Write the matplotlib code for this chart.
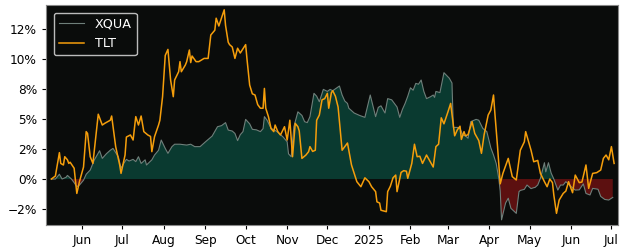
import matplotlib
matplotlib.use("Agg")
import matplotlib.pyplot as plt
import matplotlib.dates as mdates
from matplotlib.ticker import FuncFormatter, MultipleLocator
import numpy as np
import pandas as pd

tlt_dates = [
    "2024-05-09", "2024-05-12", "2024-05-15", "2024-05-16", "2024-05-18", "2024-05-19", "2024-05-21",
    "2024-05-22", "2024-05-23", "2024-05-26", "2024-05-28", "2024-05-30", "2024-06-02", "2024-06-04",
    "2024-06-05", "2024-06-07", "2024-06-09", "2024-06-13", "2024-06-16", "2024-06-18", "2024-06-22",
    "2024-06-23", "2024-06-26", "2024-06-29", "2024-06-30", "2024-07-03", "2024-07-04", "2024-07-07",
    "2024-07-09", "2024-07-11", "2024-07-13", "2024-07-15", "2024-07-17", "2024-07-20", "2024-07-22",
    "2024-07-23", "2024-07-25", "2024-07-28", "2024-07-29", "2024-07-31", "2024-08-02", "2024-08-04",
    "2024-08-06", "2024-08-08", "2024-08-09", "2024-08-12", "2024-08-13", "2024-08-14", "2024-08-17",
    "2024-08-18", "2024-08-20", "2024-08-21", "2024-08-22", "2024-08-25", "2024-08-27", "2024-08-31",
    "2024-09-03", "2024-09-05", "2024-09-08", "2024-09-09", "2024-09-11", "2024-09-15", "2024-09-16",
    "2024-09-18", "2024-09-19", "2024-09-21", "2024-09-23", "2024-09-25", "2024-09-27", "2024-10-01",
    "2024-10-02", "2024-10-04", "2024-10-06", "2024-10-08", "2024-10-10", "2024-10-12", "2024-10-14",
    "2024-10-15", "2024-10-16", "2024-10-18", "2024-10-20", "2024-10-22", "2024-10-23", "2024-10-25",
    "2024-10-27", "2024-10-30", "2024-11-01", "2024-11-03", "2024-11-05", "2024-11-07", "2024-11-09",
    "2024-11-10", "2024-11-12", "2024-11-15", "2024-11-17", "2024-11-18", "2024-11-20", "2024-11-22",
    "2024-11-23", "2024-11-25", "2024-11-27", "2024-11-29", "2024-12-01", "2024-12-02", "2024-12-04",
    "2024-12-05", "2024-12-07", "2024-12-09", "2024-12-12", "2024-12-14", "2024-12-16", "2024-12-19",
    "2024-12-21", "2024-12-23", "2024-12-26", "2024-12-29", "2025-01-01", "2025-01-03", "2025-01-06",
    "2025-01-07", "2025-01-09", "2025-01-10", "2025-01-14", "2025-01-15", "2025-01-17", "2025-01-19",
    "2025-01-21", "2025-01-22", "2025-01-25", "2025-01-27", "2025-01-29", "2025-01-30", "2025-02-02",
    "2025-02-04", "2025-02-06", "2025-02-08", "2025-02-10", "2025-02-13", "2025-02-16", "2025-02-18",
    "2025-02-20", "2025-02-22", "2025-02-24", "2025-02-26", "2025-03-01", "2025-03-03", "2025-03-05",
    "2025-03-06", "2025-03-08", "2025-03-10", "2025-03-11", "2025-03-13", "2025-03-14", "2025-03-16",
    "2025-03-19", "2025-03-21", "2025-03-24", "2025-03-26", "2025-03-28", "2025-03-31", "2025-04-02",
    "2025-04-04", "2025-04-05", "2025-04-07", "2025-04-09", "2025-04-11", "2025-04-15", "2025-04-18",
    "2025-04-21", "2025-04-24", "2025-04-27", "2025-04-28", "2025-05-02", "2025-05-04", "2025-05-07",
    "2025-05-09", "2025-05-12", "2025-05-14", "2025-05-16", "2025-05-18", "2025-05-19", "2025-05-21",
    "2025-05-23", "2025-05-26", "2025-05-28", "2025-05-30", "2025-06-02", "2025-06-04", "2025-06-07",
    "2025-06-09", "2025-06-12", "2025-06-14", "2025-06-17", "2025-06-20", "2025-06-23", "2025-06-25",
    "2025-06-27", "2025-06-29", "2025-07-01", "2025-07-03",
]
tlt_values = [
    0.0, 0.25, 2.2, 1.3, 1.17, 1.86, 1.6,
    1.3, 1.4, 0.9, -1.2, -0.2, 1.0, 3.95,
    3.8, 1.86, 1.3, 5.4, 4.5, 4.65, 4.9,
    5.25, 2.7, 1.17, 0.47, 2.0, 3.5, 3.67,
    3.25, 5.2, 4.5, 5.25, 3.95, 3.67, 3.55,
    2.28, 3.53, 4.5, 4.9, 6.86, 10.3, 10.8,
    8.25, 6.86, 8.25, 8.94, 9.78, 8.94, 9.5,
    9.78, 10.75, 9.7, 10.25, 9.78, 9.78, 10.05,
    10.05, 12.0, 12.4, 13.4, 12.75, 14.1, 12.8,
    11.4, 11.2, 11.0, 10.05, 10.9, 10.5, 11.2,
    10.0, 7.83, 7.1, 7.0, 6.2, 5.9, 5.9,
    7.55, 5.9, 5.2, 4.2, 3.95, 4.5, 3.95,
    3.67, 4.36, 3.25, 4.9, 1.86, 4.64, 4.36,
    4.0, 1.72, 2.0, 2.28, 2.7, 2.3, 2.4,
    4.9, 5.33, 6.6, 6.7, 7.14, 5.9, 7.2,
    7.36, 6.9, 6.0, 2.4, 2.7, 3.0, 1.17,
    0.47, -0.22, -0.64, 0.1, -0.22, -0.64, -1.05,
    -1.9, -2.0, -2.6, -2.72, -1.05, -0.6, 0.1,
    0.33, -1.05, 0.55, 0.7, 0.65, 0.06, 1.3,
    2.9, 1.86, 1.9, 1.3, 2.0, 1.4, 1.0,
    2.7, 2.9, 5.1, 4.6, 5.6, 6.3, 4.45,
    3.6, 4.1, 4.4, 3.3, 3.95, 3.6, 3.7,
    4.78, 3.8, 3.2, 2.14, 3.7, 5.33, 5.75,
    7.0, 5.5, 2.7, -0.4, 0.47, 1.72, 0.2,
    -0.08, 2.4, 3.1, 3.95, 2.4, 1.44, 1.55,
    0.47, -0.22, -0.64, 0.0, -0.3, -1.33, -2.86,
    -1.75, -1.2, -1.0, -0.22, -1.14, 0.33, -0.3,
    -0.25, 1.17, -0.78, 0.47, 0.53, 0.75, 1.72,
    2.0, 1.6, 2.7, 1.3,
]

xqua_dates = [
    "2024-05-09", "2024-05-12", "2024-05-15", "2024-05-17", "2024-05-20", "2024-05-21", "2024-05-24",
    "2024-05-26", "2024-05-28", "2024-05-30", "2024-06-02", "2024-06-04", "2024-06-07", "2024-06-10",
    "2024-06-14", "2024-06-16", "2024-06-19", "2024-06-22", "2024-06-24", "2024-06-26", "2024-06-28",
    "2024-06-30", "2024-07-02", "2024-07-04", "2024-07-06", "2024-07-09", "2024-07-11", "2024-07-13",
    "2024-07-15", "2024-07-18", "2024-07-19", "2024-07-23", "2024-07-25", "2024-07-28", "2024-07-30",
    "2024-08-02", "2024-08-04", "2024-08-07", "2024-08-09", "2024-08-13", "2024-08-18", "2024-08-21",
    "2024-08-24", "2024-08-28", "2024-09-01", "2024-09-06", "2024-09-10", "2024-09-13", "2024-09-16",
    "2024-09-18", "2024-09-21", "2024-09-23", "2024-09-25", "2024-09-27", "2024-09-29", "2024-10-01",
    "2024-10-04", "2024-10-06", "2024-10-09", "2024-10-12", "2024-10-14", "2024-10-15", "2024-10-17",
    "2024-10-20", "2024-10-23", "2024-10-25", "2024-10-29", "2024-11-01", "2024-11-02", "2024-11-04",
    "2024-11-06", "2024-11-09", "2024-11-12", "2024-11-14", "2024-11-16", "2024-11-18", "2024-11-21",
    "2024-11-23", "2024-11-25", "2024-11-28", "2024-12-01", "2024-12-03", "2024-12-05", "2024-12-08",
    "2024-12-10", "2024-12-12", "2024-12-14", "2024-12-16", "2024-12-17", "2024-12-21", "2024-12-25",
    "2024-12-29", "2025-01-02", "2025-01-06", "2025-01-08", "2025-01-10", "2025-01-13", "2025-01-15",
    "2025-01-18", "2025-01-22", "2025-01-24", "2025-01-26", "2025-01-28", "2025-01-30", "2025-02-01",
    "2025-02-03", "2025-02-05", "2025-02-07", "2025-02-09", "2025-02-11", "2025-02-13", "2025-02-16",
    "2025-02-18", "2025-02-19", "2025-02-20", "2025-02-23", "2025-02-26", "2025-03-02", "2025-03-04",
    "2025-03-05", "2025-03-08", "2025-03-10", "2025-03-12", "2025-03-14", "2025-03-16", "2025-03-18",
    "2025-03-22", "2025-03-24", "2025-03-27", "2025-03-30", "2025-04-02", "2025-04-04", "2025-04-06",
    "2025-04-08", "2025-04-09", "2025-04-10", "2025-04-13", "2025-04-15", "2025-04-17", "2025-04-21",
    "2025-04-23", "2025-04-24", "2025-04-27", "2025-04-29", "2025-05-02", "2025-05-04", "2025-05-05",
    "2025-05-07", "2025-05-09", "2025-05-12", "2025-05-13", "2025-05-15", "2025-05-17", "2025-05-19",
    "2025-05-22", "2025-05-24", "2025-05-26", "2025-05-28", "2025-06-01", "2025-06-04", "2025-06-07",
    "2025-06-10", "2025-06-12", "2025-06-15", "2025-06-17", "2025-06-21", "2025-06-23", "2025-06-26",
    "2025-06-29", "2025-07-02",
]
xqua_values = [
    0.0, 0.0, 0.4, 0.0, 0.15, 0.3, 0.0,
    -0.3, -0.64, -0.5, -0.1, 0.4, 0.75, 1.58,
    2.36, 1.72, 2.1, 2.4, 2.55, 2.2, 1.86,
    0.9, 1.3, 1.64, 1.5, 1.64, 1.45, 1.86,
    1.3, 1.6, 1.17, 1.6, 2.0, 2.4, 3.25,
    2.55, 2.14, 2.7, 2.9, 2.9, 2.83, 2.9,
    2.7, 2.7, 3.1, 3.58, 4.36, 4.45, 4.7,
    4.08, 4.0, 3.8, 3.2, 3.7, 3.95, 4.97,
    4.6, 4.14, 4.1, 3.95, 4.2, 5.2, 4.9,
    4.22, 4.05, 3.9, 3.5, 3.1, 2.1, 1.86,
    4.36, 5.6, 5.3, 4.78, 4.7, 5.2, 7.14,
    6.9, 6.44, 7.47, 7.3, 7.47, 7.36, 7.6,
    7.75, 7.0, 6.5, 6.3, 5.9, 5.5, 5.3,
    5.14, 7.0, 5.2, 5.97, 6.1, 5.5, 6.7,
    6.6, 6.0, 5.14, 5.8, 6.3, 6.9, 7.6,
    7.4, 7.97, 7.9, 8.25, 7.3, 6.7, 6.86,
    7.0, 6.8, 7.3, 7.2, 8.86, 8.4, 8.0,
    4.3, 4.3, 4.22, 3.67, 3.6, 3.4, 4.78,
    4.97, 4.9, 4.22, 3.95, 2.6, 2.0, 1.3,
    0.0, -1.0, -3.4, -2.0, -1.6, -2.44, -2.86,
    -1.05, -0.95, -0.86, -0.5, -0.8, -0.72, -0.7,
    -0.5, 0.06, 1.36, 0.6, 1.36, 0.5, 0.0,
    -0.92, -0.5, -0.5, -0.22, -0.64, -0.92, -0.9,
    -0.4, -1.2, -1.33, -0.78, -0.85, -1.45, -1.7,
    -1.75, -1.53,
]

xlim_dates = ["2024-05-05", "2025-07-06"]
y_limits = [-3.83, 14.5]

tlt_x = pd.to_datetime(tlt_dates)
xq_x = pd.to_datetime(xqua_dates)
xq_y = np.array(xqua_values)

fig = plt.figure(figsize=(6.25, 2.5), dpi=100, facecolor="white")
ax = fig.add_axes([0.0736, 0.1, 0.9154, 0.88])
ax.set_facecolor("#0a0c0b")

green = "#0a3a30"
red = "#5c1010"
ax.fill_between(xq_x, 0, xq_y, where=xq_y >= 0, interpolate=True, color=green, linewidth=0)
ax.fill_between(xq_x, 0, xq_y, where=xq_y <= 0, interpolate=True, color=red, linewidth=0)
ax.plot(xq_x, xq_y, color="#6f7f7a", linewidth=0.8, label="XQUA")
ax.plot(tlt_x, tlt_values, color="#f59e0b", linewidth=1.1, label="TLT")

ax.set_xlim(pd.to_datetime(xlim_dates[0]), pd.to_datetime(xlim_dates[1]))
ax.set_ylim(*y_limits)

ax.yaxis.set_major_locator(MultipleLocator(2.5))
ax.yaxis.set_major_formatter(FuncFormatter(lambda v, p: "{:.0f}%".format(v).replace("-", "\u2212")))

ax.xaxis.set_major_locator(mdates.MonthLocator())
def fmt_date(v, p):
    d = mdates.num2date(v)
    return str(d.year) if d.month == 1 else d.strftime("%b")
ax.xaxis.set_major_formatter(FuncFormatter(fmt_date))

ax.tick_params(axis="both", labelsize=8.7, length=3, width=0.8, colors="black")
for s in ax.spines.values():
    s.set_color("#888888")
    s.set_linewidth(0.8)

leg = ax.legend(loc="upper left", fontsize=9.2, facecolor="#0a0c0b", edgecolor="#bbbbbb",
                framealpha=1.0, borderaxespad=0.6)
for t in leg.get_texts():
    t.set_color("white")

fig.savefig("out.png", dpi=100, facecolor="white")
